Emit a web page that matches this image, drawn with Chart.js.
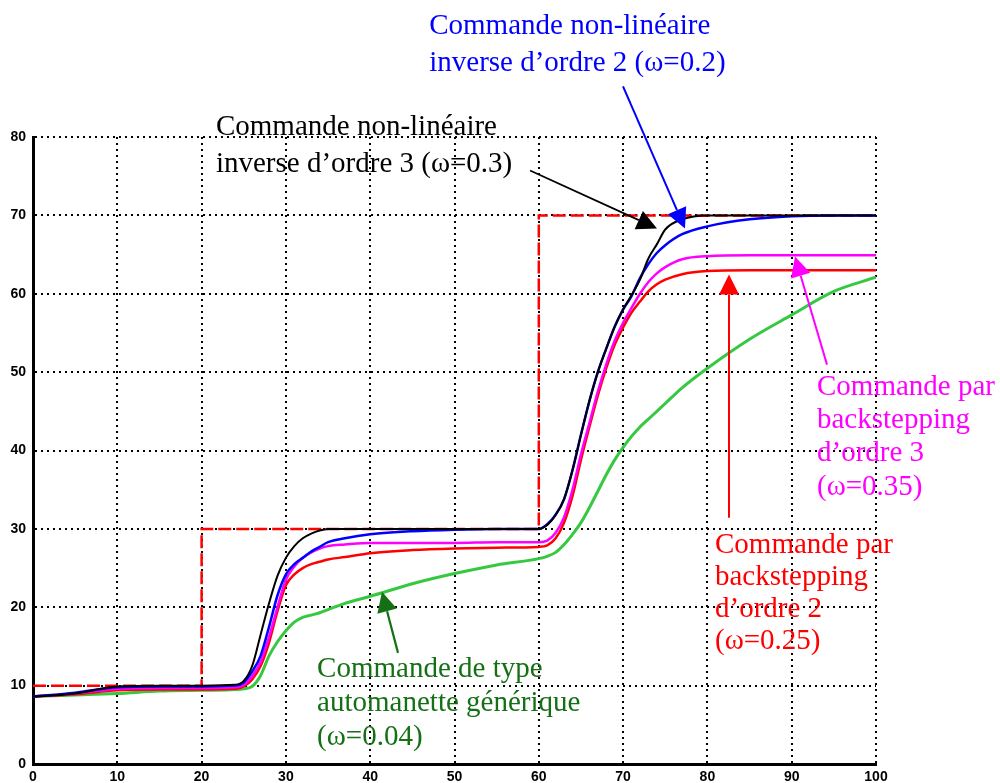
<!DOCTYPE html>
<html>
<head>
<meta charset="utf-8">
<script src="https://cdn.jsdelivr.net/npm/chart.js@4.4.1/dist/chart.umd.min.js"></script>
<style>
html,body{margin:0;padding:0;background:#fff;}
#wrap{width:1000px;height:783px;position:relative;}
</style>
</head>
<body>
<div id="wrap"><canvas id="c" width="1000" height="783"></canvas></div>
<script>
// ---- data ----
const t = [0,5,10,15,20,24,25,26,27,28,29,30,31,32,33,34,35,37,40,45,50,55,60,61,62,63,64,65,66,67,68,69,70,71,72,73,74,75,77,80,85,90,95,100];
const nlInv3 = [8.6,9.0,9.9,10.0,10.0,10.1,10.6,12.5,16.5,20.5,24.0,26.3,27.8,28.8,29.4,29.8,30.0,30.0,30.0,30.0,30.0,30.0,30.0,30.5,31.8,33.8,37.5,42.0,46.3,50.0,53.0,55.8,58.0,59.8,61.8,64.5,66.3,68.2,69.5,70.0,70.0,70.0,70.0,70.0];
const nlInv2 = [8.6,9.1,9.8,9.9,9.9,10.0,10.4,11.8,13.8,17.5,21.5,24.2,25.5,26.3,27.1,27.7,28.3,28.8,29.3,29.7,29.9,30.0,30.0,30.6,31.8,33.8,37.5,42.0,46.3,50.0,53.0,55.8,58.0,59.7,62.0,63.8,65.2,66.2,67.6,68.6,69.5,69.9,70.0,70.0];
const backstep3 = [8.6,9.0,9.6,9.7,9.7,9.8,10.1,11.2,13.0,16.2,20.0,23.5,25.2,26.3,27.0,27.5,27.8,28.0,28.2,28.2,28.2,28.3,28.3,28.5,29.5,31.5,35.0,39.5,43.5,47.5,51.0,54.0,56.3,58.2,60.0,61.5,62.6,63.4,64.4,64.8,64.9,64.9,64.9,64.9];
const backstep2 = [8.6,8.9,9.4,9.5,9.5,9.6,9.9,10.8,12.5,15.5,19.5,22.8,24.2,25.0,25.5,25.8,26.1,26.4,26.9,27.3,27.5,27.6,27.7,27.9,28.8,30.8,34.2,38.8,43.0,47.0,50.5,53.5,55.7,57.6,59.0,60.3,61.2,61.8,62.5,62.9,63.0,63.0,63.0,63.0];
const autoGen = [8.6,8.8,9.0,9.3,9.4,9.5,9.6,9.9,11.3,13.8,15.6,17.0,18.1,18.7,19.0,19.3,19.7,20.5,21.4,23.0,24.3,25.4,26.2,26.5,27.0,28.0,29.3,30.8,32.7,34.8,36.9,38.8,40.4,41.8,43.0,44.0,45.0,46.0,48.0,50.5,54.2,57.3,60.3,62.1];
const refX = [0,20,20,60,60,100];
const refY = [10,10,30,30,70,70];
const xTicks = [0,10,20,30,40,50,60,70,80,90,100];
const yTicks = [0,10,20,30,40,50,60,70,80];

const pts = (xs, ys) => xs.map((x,i)=>({x:x, y:ys[i]}));

// ---- annotations (data coordinates) ----
const labels = [
  {lines:["Commande non-linéaire","inverse d\u2019ordre 3 (\u03c9=0.3)"], x:21.7, y:80.2, gap:36.7, color:"#000000"},
  {lines:["Commande non-linéaire","inverse d\u2019ordre 2 (\u03c9=0.2)"], x:47.0, y:93.1, gap:36.7, color:"#0000ff"},
  {lines:["Commande par","backstepping","d\u2019ordre 3","(\u03c9=0.35)"], x:93.0, y:47.1, gap:33.3, color:"#ff00ff"},
  {lines:["Commande par","backstepping","d\u2019ordre 2","(\u03c9=0.25)"], x:80.9, y:26.9, gap:31.8, color:"#ff0000"},
  {lines:["Commande de type","automanette générique","(\u03c9=0.04)"], x:33.7, y:11.1, gap:34.2, color:"#157015"}
];
const arrows = [
  {from:[58.96,75.73], to:[74.02,68.33], color:"#000000", w:1.8},
  {from:[69.99,86.46], to:[77.34,68.33], color:"#0000ff", w:2},
  {from:[94.19,50.96], to:[90.39,64.75], color:"#ff00ff", w:2},
  {from:[82.56,31.42], to:[82.56,62.45], color:"#ff0000", w:2},
  {from:[43.30,14.18], to:[41.40,21.97], color:"#157015", w:2.2}
];

const annot = {
  id:'annot',
  afterDatasetsDraw(chart){
    const ctx = chart.ctx, xs = chart.scales.x, ys = chart.scales.y;
    ctx.save();
    ctx.font = "29px 'Liberation Serif', 'Times New Roman', serif";
    ctx.textBaseline = 'alphabetic';
    ctx.textAlign = 'left';
    labels.forEach(l=>{
      const px = xs.getPixelForValue(l.x), py = ys.getPixelForValue(l.y);
      ctx.fillStyle = l.color;
      l.lines.forEach((s,i)=>ctx.fillText(s, px, py + i*l.gap));
    });
    arrows.forEach(a=>{
      const x1 = xs.getPixelForValue(a.from[0]), y1 = ys.getPixelForValue(a.from[1]);
      const x2 = xs.getPixelForValue(a.to[0]), y2 = ys.getPixelForValue(a.to[1]);
      const dx = x2-x1, dy = y2-y1, L = Math.hypot(dx,dy), ux = dx/L, uy = dy/L;
      const hl = 20, hw = 10;
      const bx = x2-ux*hl, by = y2-uy*hl;
      ctx.strokeStyle = a.color; ctx.fillStyle = a.color; ctx.lineWidth = a.w;
      ctx.beginPath(); ctx.moveTo(x1,y1); ctx.lineTo(bx,by); ctx.stroke();
      ctx.beginPath(); ctx.moveTo(x2,y2);
      ctx.lineTo(bx - uy*hw, by + ux*hw);
      ctx.lineTo(bx + uy*hw, by - ux*hw);
      ctx.closePath(); ctx.fill();
    });
    ctx.restore();
  }
};

const line = (data, color, w) => ({data, borderColor:color, borderWidth:w, pointRadius:0, fill:false, cubicInterpolationMode:'monotone'});

new Chart(document.getElementById('c'), {
  type:'line',
  data:{datasets:[
    line(pts(t,nlInv3), '#000000', 2),
    line(pts(t,nlInv2), '#0000ff', 2.5),
    line(pts(t,backstep3), '#ff00ff', 2.5),
    line(pts(t,backstep2), '#ff0000', 2.5),
    line(pts(t,autoGen), '#35c840', 3),
    Object.assign(line(pts(refX,refY), '#ff0000', 2.5), {borderDash:[13,5], cubicInterpolationMode:'default', tension:0})
  ]},
  options:{
    responsive:false, animation:false, parsing:true,
    layout:{padding:{top:137, right:124, left:0, bottom:0}},
    plugins:{legend:{display:false}, tooltip:{enabled:false}},
    scales:{
      x:{type:'linear', min:0, max:100,
        afterBuildTicks:s=>{s.ticks = xTicks.map(v=>({value:v}));},
        afterFit:s=>{s.height = 19;},
        ticks:{color:'#000', font:{family:"'Liberation Sans', Arial, sans-serif", size:14, weight:'bold'}, padding:5, maxRotation:0, autoSkip:false},
        grid:{color:'#000', lineWidth:2, drawTicks:false},
        border:{display:true, color:'#000', width:3, dash:[2,4]}
      },
      y:{type:'linear', min:0, max:80,
        afterBuildTicks:s=>{s.ticks = yTicks.map(v=>({value:v}));},
        afterFit:s=>{s.width = 33;},
        ticks:{color:'#000', font:{family:"'Liberation Sans', Arial, sans-serif", size:14, weight:'bold'}, padding:7, autoSkip:false},
        grid:{color:'#000', lineWidth:2, drawTicks:false},
        border:{display:true, color:'#000', width:3, dash:[2,4]}
      }
    }
  },
  plugins:[annot]
});
</script>
</body>
</html>
